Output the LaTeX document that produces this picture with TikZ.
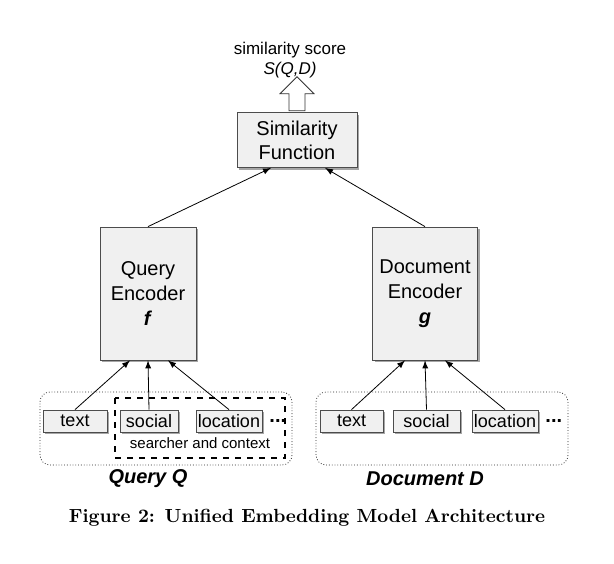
\documentclass[tikz,border=0pt]{standalone}
\usepackage{fontspec}
\setsansfont{Liberation Sans}
\usetikzlibrary{positioning, arrows, shapes.arrows, shadows}

\tikzset{
  block/.style={draw=black!70, fill=black!6, font=\sffamily,
    drop shadow={shadow xshift=1.2pt, shadow yshift=-1.2pt, fill=black!35, opacity=1}},
  feat/.style={block, minimum height=11pt, inner sep=0pt, font=\sffamily\fontsize{9}{10}\selectfont},
  group/.style={draw=black!85, densely dotted, rounded corners=5pt},
}

\begin{document}
\begin{tikzpicture}[x=0.5pt, y=-0.5pt]
    \useasboundingbox (0,0) rectangle (614,563);

    % Similarity Function
    \node [block, minimum width=60pt, minimum height=27.5pt, align=center,
    font=\sffamily\fontsize{10}{12}\selectfont] (Sim) at (297,140)
    {Similarity\\Function};%
    \node [draw=black!80, fill=white, single arrow, shape border rotate=90,
    minimum height=17pt, minimum width=17pt, single arrow head extend=3pt,
    inner sep=2.5pt, anchor=tail] (Out) at ([yshift=0.5pt]Sim.north) {};%
    \node [align=center, font=\sffamily\fontsize{8.5}{10}\selectfont] (Score)
    at (290,60) {similarity score\\\textit{S(Q,D)}};%

    % Encoders
    \node [block, minimum width=48pt, minimum height=66.5pt, align=center,
    font=\sffamily\fontsize{10}{12.5}\selectfont] (QE) at (148,293.5)
    {Query\\Encoder\\\textbf{\textit{f}}};%
    \node [block, minimum width=48pt, minimum height=66.5pt, align=center,
    font=\sffamily\fontsize{10}{12.5}\selectfont] (DE) at (425,293.5)
    {Document\\Encoder\\\textbf{\textit{g}}};%

    % Query group
    \node [group, minimum width=126pt, minimum height=36.5pt] (QG) at (166,428.5) {};%
    \draw [dashed, very thick] (115,398) rectangle (285,458);%
    \node [feat, minimum width=32pt] (Qtext) at (75,421) {text};%
    \node [feat, minimum width=29pt] (Qsocial) at (149,421) {social};%
    \node [feat, minimum width=33pt] (Qloc) at (229,421) {location};%
    \node [right=0pt of Qloc, font=\sffamily\bfseries] (Qdots) {...};%
    \node [font=\sffamily\fontsize{7.5}{8}\selectfont] (Ctx) at (200,443)
    {searcher and context};%
    \node [font=\sffamily\bfseries\itshape\fontsize{10}{11}\selectfont]
    (QL) at (148,479) {Query Q};%

    % Document group
    \node [group, minimum width=126pt, minimum height=36.5pt] (DG) at (442,428.5) {};%
    \node [feat, minimum width=31.5pt] (Dtext) at (351.5,421) {text};%
    \node [feat, minimum width=33.5pt] (Dsocial) at (426.5,421) {social};%
    \node [feat, minimum width=33pt] (Dloc) at (505,421) {location};%
    \node [right=0pt of Dloc, font=\sffamily\bfseries] (Ddots) {...};%
    \node [font=\sffamily\bfseries\itshape\fontsize{10}{11}\selectfont]
    (DL) at (425,479) {Document D};%

    % arrows
    \draw [-latex] (QE.north) -- ([xshift=-13pt]Sim.south);%
    \draw [-latex] (DE.north) -- ([xshift=14pt]Sim.south);%
    \draw [-latex] (Qtext.north) -- ([xshift=-9pt]QE.south);%
    \draw [-latex] (Qsocial.north) -- (QE.south);%
    \draw [-latex] (Qloc.north) -- ([xshift=10pt]QE.south);%
    \draw [-latex] (Dtext.north) -- ([xshift=-10pt]DE.south);%
    \draw [-latex] (Dsocial.north) -- (DE.south);%
    \draw [-latex] (Dloc.north) -- ([xshift=10pt]DE.south);%

    % caption
    \node [font=\bfseries\fontsize{9.5}{11}\selectfont] (Cap) at (307,518)
    {Figure 2: Unified Embedding Model Architecture};%
\end{tikzpicture}
\end{document}
